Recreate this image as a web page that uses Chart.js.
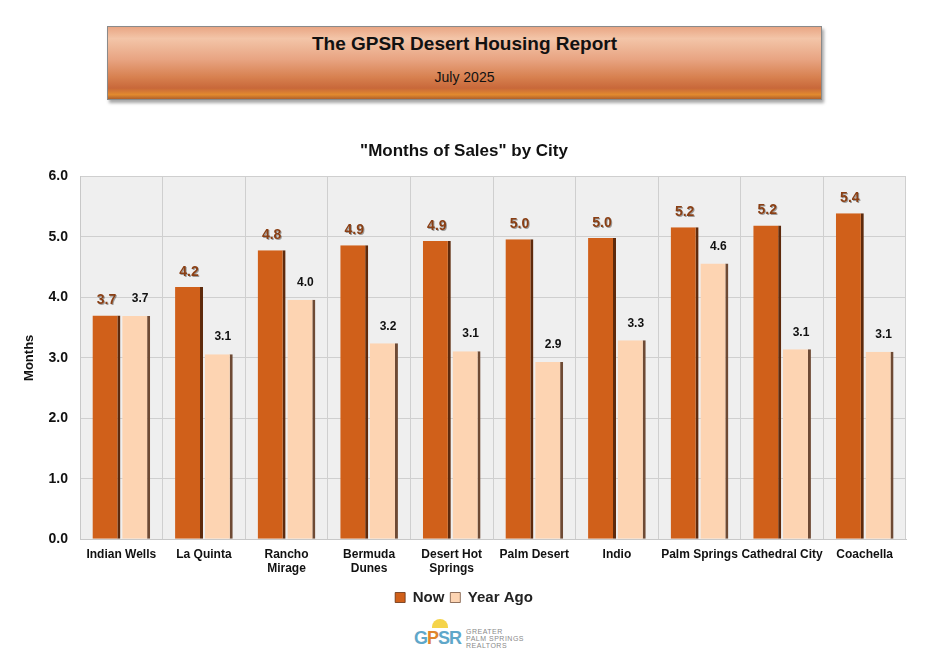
<!DOCTYPE html>
<html lang="en">
<head>
  <meta charset="UTF-8" />
  <title>GPSR Desert Housing Report - Months of Sales</title>
  <script src="https://cdn.jsdelivr.net/npm/chart.js"></script>
  <style>
    body {
      margin: 0;
      width: 944px;
      height: 655px;
      background: #ffffff;
      font-family: 'Liberation Sans', Arial, sans-serif;
      position: relative;
      overflow: hidden;
    }
    .banner {
      position: absolute;
      left: 107px;
      top: 26px;
      width: 713px;
      height: 72px;
      border: 1px solid #8a8a8a;
      background: linear-gradient(to bottom, #e9a684 0%, #f3c5a8 16%, #e8a482 45%, #d7804f 70%, #c8683a 85%, #e28a2e 94%, #b0602a 100%);
      box-shadow: 2px 3px 3px rgba(0,0,0,0.35);
      text-align: center;
      color: #111;
    }
    .banner h1 {
      margin: 6px 0 0;
      font-size: 19px;
      font-weight: 700;
    }
    .banner .month {
      margin-top: 14px;
      font-size: 14px;
    }
    #wrap {
      position: absolute;
      left: 0;
      top: 128px;
      width: 944px;
      height: 487px;
    }
    .logo {
      position: absolute;
      left: 414px;
      top: 617px;
      width: 112px;
      height: 36px;
    }
    .logo .mark {
      position: absolute;
      left: 0;
      top: 11px;
      font-size: 18px;
      font-weight: 700;
      letter-spacing: -1px;
    }
    .logo .sun {
      position: absolute;
      left: 18px;
      top: 2px;
      width: 16px;
      height: 9px;
      border-radius: 9px 9px 0 0;
      background: #f5d44a;
    }
    .logo .words {
      position: absolute;
      left: 52px;
      top: 11px;
      font-size: 7px;
      line-height: 7px;
      color: #8a8a8a;
      letter-spacing: 0.5px;
      white-space: nowrap;
    }
  </style>
</head>
<body>
  <div class="banner">
    <h1>The GPSR Desert Housing Report</h1>
    <div class="month">July 2025</div>
  </div>

  <div id="wrap"><canvas id="chart"></canvas></div>

  <div class="logo">
    <div class="sun"></div>
    <div class="mark"><span style="color:#5fa7c9">G</span><span style="color:#e0852e">P</span><span style="color:#5fa7c9">SR</span></div>
    <div class="words">GREATER<br>PALM SPRINGS<br>REALTORS</div>
  </div>

  <script>
    const cities = ['Indian Wells', 'La Quinta', ['Rancho', 'Mirage'], ['Bermuda', 'Dunes'], ['Desert Hot', 'Springs'],
      'Palm Desert', 'Indio', 'Palm Springs', 'Cathedral City', 'Coachella'];
    const nowMonths = [3.70, 4.17, 4.78, 4.86, 4.93, 4.96, 4.98, 5.16, 5.19, 5.39];
    const yearAgoMonths = [3.69, 3.06, 3.96, 3.24, 3.11, 2.93, 3.29, 4.56, 3.14, 3.10];
    const yTicks = [0, 1, 2, 3, 4, 5, 6];

    const plotBackground = {
      id: 'plotBackground',
      beforeDraw(chart) {
        const { ctx, chartArea: a } = chart;
        ctx.save();
        ctx.fillStyle = '#efefef';
        ctx.fillRect(a.left, a.top, a.right - a.left, a.bottom - a.top);
        ctx.restore();
      }
    };

    const valueLabels = {
      id: 'valueLabels',
      afterDatasetsDraw(chart) {
        const ctx = chart.ctx;
        chart.data.datasets.forEach((ds, i) => {
          const meta = chart.getDatasetMeta(i);
          meta.data.forEach((bar, j) => {
            const txt = ds.data[j].toFixed(1);
            ctx.save();
            ctx.textAlign = 'center';
            ctx.textBaseline = 'bottom';
            if (i === 0) {
              ctx.font = 'bold 14px "Liberation Sans", Arial, sans-serif';
              ctx.shadowColor = 'rgba(0,0,0,0.35)';
              ctx.shadowOffsetX = 1;
              ctx.shadowOffsetY = 1;
              ctx.fillStyle = '#8a3f14';
              ctx.fillText(txt, bar.x, bar.y - 8);
            } else {
              ctx.font = 'bold 12px "Liberation Sans", Arial, sans-serif';
              ctx.fillStyle = '#111';
              ctx.fillText(txt, bar.x + 4, bar.y - 11);
            }
            ctx.restore();
          });
        });
      }
    };

    new Chart(document.getElementById('chart'), {
      type: 'bar',
      data: {
        labels: cities,
        datasets: [
          {
            label: 'Now',
            data: nowMonths,
            backgroundColor: '#d0601a',
            borderColor: '#5e2a0c',
            borderWidth: { top: 0, right: 3, bottom: 0, left: 0 },
            borderSkipped: false,
            categoryPercentage: 0.72,
            barPercentage: 0.94
          },
          {
            label: 'Year Ago',
            data: yearAgoMonths,
            backgroundColor: '#fdd4b2',
            borderColor: '#6e4a34',
            borderWidth: { top: 0, right: 3, bottom: 0, left: 0 },
            borderSkipped: false,
            categoryPercentage: 0.72,
            barPercentage: 0.94
          }
        ]
      },
      options: {
        responsive: true,
        maintainAspectRatio: false,
        animation: false,
        layout: { padding: { left: 22, right: 38, top: 0, bottom: 0 } },
        plugins: {
          title: {
            display: true,
            text: '"Months of Sales" by City',
            color: '#111',
            font: { family: 'Liberation Sans', size: 17, weight: 'bold' },
            padding: { top: 13, bottom: 15 }
          },
          legend: {
            position: 'bottom',
            labels: {
              color: '#222',
              boxWidth: 10,
              boxHeight: 10,
              padding: 6,
              font: { family: 'Liberation Sans', size: 15, weight: 'bold' }
            }
          },
          tooltip: { enabled: false }
        },
        scales: {
          x: {
            grid: { color: '#cfcfcf', offset: true, drawTicks: false },
            border: { color: '#c8c8c8' },
            ticks: {
              color: '#111',
              autoSkip: false,
              maxRotation: 0,
              padding: 8,
              font: { family: 'Liberation Sans', size: 12, weight: 'bold' }
            }
          },
          y: {
            min: 0,
            max: 6,
            afterBuildTicks(scale) { scale.ticks = yTicks.map(v => ({ value: v })); },
            afterFit(scale) { scale.width = 58; },
            grid: { color: '#cfcfcf', drawTicks: false },
            border: { color: '#c8c8c8' },
            title: {
              display: true,
              text: 'Months',
              color: '#111',
              padding: 0,
              font: { family: 'Liberation Sans', size: 13, weight: 'bold' }
            },
            ticks: {
              color: '#111',
              padding: 12,
              callback: v => Number(v).toFixed(1),
              font: { family: 'Liberation Sans', size: 14, weight: 'bold' }
            }
          }
        }
      },
      plugins: [plotBackground, valueLabels]
    });
  </script>
</body>
</html>
